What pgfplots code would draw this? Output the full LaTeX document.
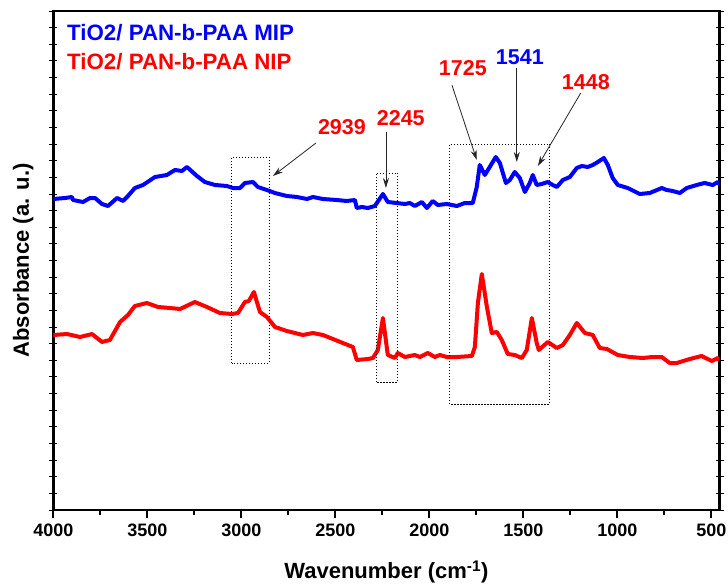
\documentclass[border=0pt]{standalone}
\usepackage{fontspec}
\setmainfont{Liberation Sans}
\usepackage{pgfplots}
\pgfplotsset{compat=1.18}
\usetikzlibrary{arrows.meta}

\definecolor{mipblue}{RGB}{0,0,255}
\definecolor{nipred}{RGB}{255,0,0}

\begin{document}
\begin{tikzpicture}
\begin{axis}[
  width=666.2pt, height=499pt, scale only axis,
  x dir=reverse,
  xmin=457, xmax=4000, ymin=5, ymax=504,
  xtick={500,1000,...,4000},
  minor xtick={750,1250,...,3750},
  xtick pos=bottom,
  xtick align=outside,
  ytick={5,21.63,...,505},
  yticklabels={},
  ytick align=center,
  major tick length=8pt, minor tick length=5pt,
  tick style={black, line width=2pt},
  every y tick/.style={black, line width=1pt},
  axis line style={black, line width=2.5pt},
  /pgf/number format/assume math mode=true,
  /pgf/number format/1000 sep={},
  xticklabel style={font=\fontsize{18}{20}\selectfont\bfseries, yshift=-2pt},
  xlabel={Wavenumber (cm\textsuperscript{-1})},
  ylabel={Absorbance (a. u.)},
  label style={font=\fontsize{22}{25}\selectfont\bfseries},
  xlabel style={at={(axis description cs:0.5,0)}, anchor=center, yshift=-62pt},
  ylabel style={at={(axis description cs:0,0.5)}, anchor=center, yshift=30pt},
]
% MIP spectrum
\addplot[mipblue, line width=4pt, line join=round] coordinates {
(4000,316) (3938,317) (3901,318) (3895,315) (3842,313) (3805,317) (3778,317)
(3741,311) (3709,309) (3661,317) (3629,314) (3603,319) (3566,327) (3523,330)
(3459,338) (3396,340) (3353,345) (3316,344) (3289,348) (3236,339) (3194,333)
(3140,330) (3077,329) (3045,327) (3007,327) (2981,332) (2938,333) (2912,328)
(2864,325) (2821,322) (2758,319) (2704,318) (2651,316) (2619,318) (2566,316)
(2492,315) (2439,314) (2396,315) (2386,307) (2359,308) (2327,307) (2290,309)
(2247,321) (2221,313) (2173,312) (2130,311) (2104,312) (2077,309) (2040,313)
(2013,307) (1982,314) (1955,310) (1907,311) (1854,309) (1811,312) (1769,312)
(1748,328) (1732,350) (1705,340) (1679,348) (1647,358) (1625,352) (1593,332)
(1572,335) (1546,343) (1519,337) (1492,323) (1466,332) (1450,340) (1429,330)
(1402,331) (1370,333) (1344,330) (1322,328) (1290,335) (1253,338) (1216,347)
(1189,349) (1158,348) (1131,350) (1104,353) (1072,357) (1051,350) (1025,337)
(998,330) (945,327) (881,321) (828,322) (764,327) (738,325) (706,324)
(668,322) (631,327) (578,330) (536,332) (493,330) (466,333) (458,331)
};
% NIP spectrum
\addplot[nipred, line width=4pt, line join=round] coordinates {
(4000,180) (3927,181) (3858,178) (3794,181) (3741,173) (3699,175) (3645,193)
(3603,200) (3566,209) (3502,212) (3443,208) (3380,207) (3326,206) (3247,213)
(3183,208) (3114,202) (3050,201) (3018,202) (2981,213) (2960,214) (2933,223)
(2901,203) (2864,198) (2821,188) (2758,184) (2673,180) (2619,182) (2566,180)
(2513,176) (2460,172) (2407,168) (2386,155) (2327,156) (2300,157) (2274,165)
(2247,197) (2221,160) (2183,157) (2168,162) (2130,158) (2077,160) (2051,158)
(2008,162) (1971,158) (1944,160) (1907,158) (1854,158) (1774,159) (1758,168)
(1742,212) (1721,241) (1694,208) (1668,182) (1641,183) (1615,175) (1583,161)
(1546,160) (1508,157) (1482,165) (1455,197) (1429,172) (1418,165) (1370,173)
(1322,167) (1290,170) (1253,180) (1216,192) (1173,182) (1131,180) (1094,167)
(1056,166) (998,160) (934,158) (865,157) (812,158) (764,158) (722,152)
(684,152) (615,156) (552,159) (498,154) (466,157) (458,155)
};

% band regions
\draw[black, line width=0.9pt, dash pattern=on 1.2pt off 1.8pt]
  (axis cs:3050,152) rectangle (axis cs:2853,358);
\draw[black, line width=0.9pt, dash pattern=on 1.2pt off 1.8pt]
  (axis cs:2284,133) rectangle (axis cs:2168,342);
\draw[black, line width=0.9pt, dash pattern=on 1.2pt off 1.8pt]
  (axis cs:1891,111) rectangle (axis cs:1360,371);

% band labels and pointers
\tikzset{ptr/.style={black!85, line width=0.8pt, -{Stealth[length=10pt,width=6pt]}},
         lbl/.style={font=\fontsize{21.5}{24}\selectfont\bfseries, inner sep=0pt}}
\draw[ptr] (axis cs:2603,372) -- (axis cs:2832,339);
\draw[ptr] (axis cs:2231,383) -- (axis cs:2231,327);
\draw[ptr] (axis cs:1880,430) -- (axis cs:1748,355);
\draw[ptr] (axis cs:1535,447) -- (axis cs:1535,353);
\draw[ptr] (axis cs:1195,422) -- (axis cs:1423,349);
\node[lbl, nipred] at (axis cs:2465,388) {2939};
\node[lbl, nipred] at (axis cs:2152,397) {2245};
\node[lbl, nipred] at (axis cs:1822,447) {1725};
\node[lbl, mipblue] at (axis cs:1519,458) {1541};
\node[lbl, nipred] at (axis cs:1168,433) {1448};

% sample names
\node[lbl, mipblue, anchor=west, font=\fontsize{22.3}{25}\selectfont\bfseries] at (rel axis cs:0.0206,0.956) {TiO2/ PAN-b-PAA MIP};
\node[lbl, nipred, anchor=west, font=\fontsize{22.3}{25}\selectfont\bfseries] at (rel axis cs:0.0206,0.898) {TiO2/ PAN-b-PAA NIP};
\end{axis}
\pgfresetboundingbox
\path ([shift={(-53.3pt,-77pt)}]current axis.south west)
  rectangle ([shift={(8.5pt,11pt)}]current axis.north east);
\end{tikzpicture}
\end{document}
